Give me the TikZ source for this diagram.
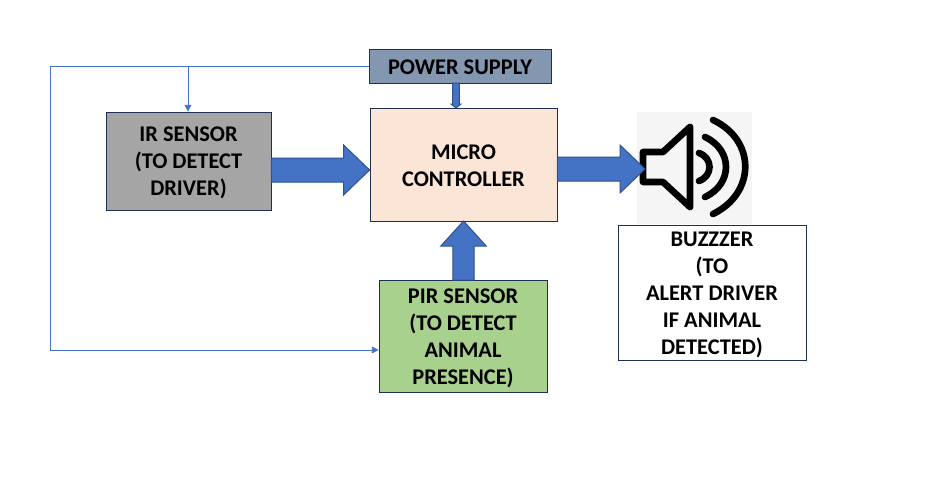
\documentclass[tikz,border=0pt]{standalone}
\usepackage{fontspec}
\setmainfont{Carlito}
\usetikzlibrary{calc,arrows.meta}
\definecolor{bluefill}{HTML}{4472C4}
\definecolor{blueedge}{HTML}{2F528F}
\definecolor{boxedge}{HTML}{1F2F4F}
\definecolor{irgray}{HTML}{A5A5A5}
\definecolor{mcupeach}{HTML}{FBE5D6}
\definecolor{pirgreen}{HTML}{A9D18E}
\definecolor{powerblue}{HTML}{8497B0}
\definecolor{iconbg}{HTML}{F5F5F5}
\newcommand{\topfix}{\rule{0pt}{14pt}}
\tikzset{
  blockbox/.style={draw=boxedge,line width=0.6pt,align=center,inner sep=0pt,
    font=\fontsize{16.8}{20.25}\selectfont\bfseries,text=black},
  blockarrow/.style={fill=bluefill,draw=blueedge,line width=0.75pt,line join=miter},
  wire/.style={draw=bluefill,line width=0.6pt},
  wiretip/.style={-{Triangle[length=5pt,width=5pt]}},
  speaker/.style={draw=black,line width=5pt,line cap=round,line join=round},
}
% start, end, half shaft, half head, head length
\newcommand{\blockarrowdraw}[5]{%
  \coordinate (neck) at ($(#2)!#5!(#1)$);
  \draw[blockarrow]
    ($(#1)!#3!90:(#2)$) -- ($(neck)!#3!90:(#2)$) -- ($(neck)!#4!90:(#2)$)
    -- (#2) -- ($(neck)!#4!-90:(#2)$) -- ($(neck)!#3!-90:(#2)$)
    -- ($(#1)!#3!-90:(#2)$) -- cycle;
}
\begin{document}
\begin{tikzpicture}[x=0.75pt,y=-0.75pt]
\useasboundingbox (0,0) rectangle (936,496);
\fill[white] (0,0) rectangle (936,496);

% speaker icon
\fill[iconbg] (637,112) rectangle (752,224);
\draw[speaker] (643,152) -- (663,152) -- (690,127) -- (690,207) -- (663,182) -- (643,182) -- cycle;
\draw[speaker] (699,153) .. controls (713,158) and (713,176) .. (699,181);
\draw[speaker] (705,137) .. controls (733,150) and (733,184) .. (705,197);
\draw[speaker] (713,120) .. controls (756,140) and (756,193) .. (713,214);

% boxes
\node[blockbox,fill=powerblue,minimum width=136.5pt,minimum height=25.5pt] (power) at (460,66) {\rule{0pt}{12.5pt}POWER SUPPLY};
\node[blockbox,fill=mcupeach,minimum width=140.25pt,minimum height=84.75pt] (mcu) at (463.5,164.5) {\rule{0pt}{12.5pt}MICRO\\CONTROLLER};
\node[blockbox,fill=irgray,minimum width=123.75pt,minimum height=73.5pt] (ir) at (188.5,161) {\topfix IR SENSOR\\(TO DETECT\\DRIVER)};
\node[blockbox,fill=pirgreen,minimum width=126pt,minimum height=84pt] (pir) at (463,336) {\topfix PIR SENSOR\\(TO DETECT\\ANIMAL\\PRESENCE)};
\node[blockbox,fill=white,minimum width=141pt,minimum height=101.25pt] (buzzer) at (712,292.5) {\topfix BUZZZER\\(TO\\ALERT DRIVER\\IF ANIMAL\\DETECTED)};

% thin supply wires
\coordinate (cornertop) at (50,66);
\coordinate (cornerbot) at (50,350);
\coordinate (irtap) at (188,66);
\draw[wire] (power.west) -- (cornertop) -- (cornerbot);
\draw[wire,wiretip] (irtap) -- (irtap |- ir.north);
\draw[wire,wiretip] (cornerbot) -- (cornerbot -| pir.west);

% block arrows
\coordinate (irout) at ($(ir.east)+(0,9)$);
\coordinate (mcuin) at (irout -| mcu.west);
\blockarrowdraw{irout}{mcuin}{9pt}{18.75pt}{19.5pt}
\coordinate (mcuout) at ($(mcu.east)+(0,4.5)$);
\coordinate (spk) at (645,169);
\blockarrowdraw{mcuout}{spk}{9pt}{18pt}{18.75pt}
\coordinate (pirout) at (463.5,280);
\coordinate (mcubot) at (463.5,221);
\blockarrowdraw{pirout}{mcubot}{7.9pt}{17pt}{18.75pt}
\coordinate (powout) at (456,83);
\coordinate (mcutop) at (456,108);
\blockarrowdraw{powout}{mcutop}{2.6pt}{3.75pt}{3pt}
\end{tikzpicture}
\end{document}
